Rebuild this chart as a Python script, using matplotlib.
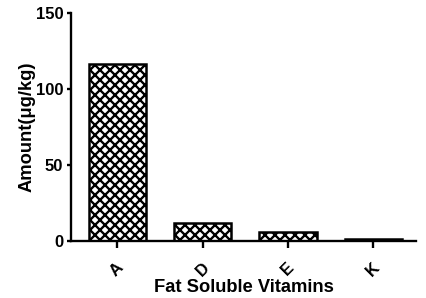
import matplotlib
matplotlib.use('Agg')
import matplotlib.pyplot as plt
import numpy as np

plt.rcParams['font.family'] = ['Liberation Sans', 'DejaVu Sans']
plt.rcParams['hatch.linewidth'] = 1.4
plt.rcParams['hatch.color'] = 'black'

# Data
vitamins = ['A', 'D', 'E', 'K']
amounts = [116.5, 11.6, 5.6, 1.0]

dpi = 120
fig = plt.figure(figsize=(426/dpi, 298/dpi), dpi=dpi)
ax = fig.add_axes([71/426, 57/298, 345/426, 228/298])

x = np.arange(len(vitamins))
ax.bar(x, amounts, width=0.67, color='white', edgecolor='black', linewidth=1.5, hatch='xxxx')

ax.set_xlim(-0.54, 3.5)
ax.set_ylim(0, 150)
ax.set_yticks([0, 50, 100, 150])
ax.set_xticks(x)
ax.set_xticklabels(vitamins, rotation=45, fontweight='bold', fontsize=10)
for lab in ax.get_yticklabels():
    lab.set_fontweight('bold')
    lab.set_fontsize(10)

ax.spines['top'].set_visible(False)
ax.spines['right'].set_visible(False)
ax.spines['left'].set_linewidth(1.4)
ax.spines['bottom'].set_linewidth(1.4)
ax.tick_params(axis='y', width=1.4, length=2.6, color='black', pad=2)
ax.tick_params(axis='x', width=1.4, length=4.2, color='black', pad=7)

ax.set_xlabel('Fat Soluble Vitamins', fontweight='bold', fontsize=11, labelpad=0)
ax.set_ylabel('Amount(μg/kg)', fontweight='bold', fontsize=11, labelpad=0)

fig.savefig('out.png', dpi=dpi)
